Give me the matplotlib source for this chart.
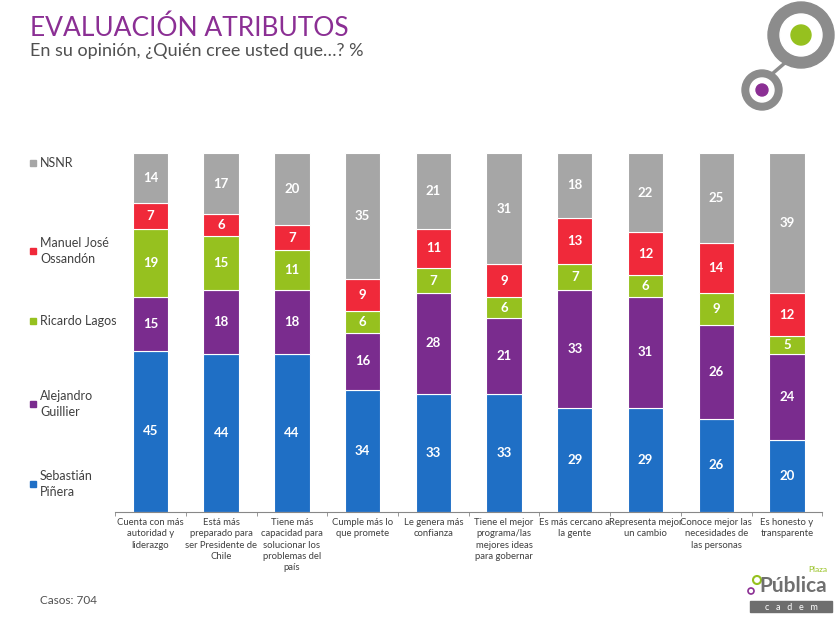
import matplotlib.pyplot as plt
from matplotlib.patches import Circle, Rectangle
import numpy as np

plt.rcParams['font.family'] = ['Lato', 'DejaVu Sans']

categories = [
    "Cuenta con más\nautoridad y\nliderazgo",
    "Está más\npreparado para\nser Presidente de\nChile",
    "Tiene más\ncapacidad para\nsolucionar los\nproblemas del\npaís",
    "Cumple más lo\nque promete",
    "Le genera más\nconfianza",
    "Tiene el mejor\nprograma/las\nmejores ideas\npara gobernar",
    "Es más cercano a\nla gente",
    "Representa mejor\nun cambio",
    "Conoce mejor las\nnecesidades de\nlas personas",
    "Es honesto y\ntransparente",
]

pinera = [45, 44, 44, 34, 33, 33, 29, 29, 26, 20]
guillier = [15, 18, 18, 16, 28, 21, 33, 31, 26, 24]
lagos = [19, 15, 11, 6, 7, 6, 7, 6, 9, 5]
ossandon = [7, 6, 7, 9, 11, 9, 13, 12, 14, 12]
nsnr = [14, 17, 20, 35, 21, 31, 18, 22, 25, 39]

series = [
    ("Sebastián\nPiñera", pinera, "#1F6FC5"),
    ("Alejandro\nGuillier", guillier, "#7A2C8E"),
    ("Ricardo Lagos", lagos, "#96C11F"),
    ("Manuel José\nOssandón", ossandon, "#F0293A"),
    ("NSNR", nsnr, "#A6A6A6"),
]

fig = plt.figure(figsize=(8.4, 6.2), dpi=100)
ax = fig.add_axes([0.137, 0.174, 0.842, 0.579])

x = np.arange(len(categories))
bottom = np.zeros(len(categories))
for name, vals, color in series:
    vals = np.array(vals)
    ax.bar(x, vals, 0.5, bottom=bottom, color=color, edgecolor="white", linewidth=0.8)
    for xi, b, v in zip(x, bottom, vals):
        ax.text(xi, b + v / 2, str(v), ha="center", va="center",
                color="white", fontsize=9.5, fontweight="bold")
    bottom += vals

ax.set_xlim(-0.5, len(categories) - 0.5)
ax.set_ylim(0, 100)
ax.set_yticks([])
ax.set_xticks(x)
ax.set_xticklabels(categories, fontsize=6.8, color="#404040", linespacing=1.35)
ax.set_xticks(np.arange(-0.5, len(categories)), minor=True)
ax.tick_params(axis="x", which="major", length=0, pad=4)
ax.tick_params(axis="x", which="minor", length=3, color="#888888")
for s in ["top", "right", "left"]:
    ax.spines[s].set_visible(False)
ax.spines["bottom"].set_color("#888888")

# legend on the left side
leg_y = [163, 251, 321, 404, 484]
for (name, vals, color), yy in zip(series[::-1], leg_y):
    fy = 1 - yy / 620
    fig.patches.append(Rectangle((30 / 840, fy - 3 / 620), 6 / 840, 6 / 620,
                                 transform=fig.transFigure, color=color))
    fig.text(40 / 840, fy, name, fontsize=9, color="#404040", va="center",
             linespacing=1.4)

fig.text(30 / 840, 1 - 28 / 620, "EVALUACIÓN ATRIBUTOS", fontsize=19,
         color="#8B2F94", va="center")
fig.text(30 / 840, 1 - 51 / 620, "En su opinión, ¿Quién cree usted que…? %",
         fontsize=13, color="#505050", va="center")
fig.text(40 / 840, 1 - 600 / 620, "Casos: 704", fontsize=8.5, color="#505050",
         va="center")

# logos drawn on an overlay in pixel coordinates
ov = fig.add_axes([0, 0, 1, 1], zorder=-1)
ov.set_xlim(0, 840)
ov.set_ylim(620, 0)
ov.axis("off")
ov.plot([772, 786], [74, 62], color="#8C8C8C", lw=2.5)
ov.add_patch(Circle((801, 35), 33, color="#8C8C8C"))
ov.add_patch(Circle((801, 35), 21, color="white"))
ov.add_patch(Circle((801, 35), 10, color="#96C11F"))
ov.add_patch(Circle((762, 90), 20, color="#8C8C8C"))
ov.add_patch(Circle((762, 90), 12, color="white"))
ov.add_patch(Circle((762, 90), 6, color="#8B2F94"))

ov.add_patch(Circle((757, 580), 4, fill=False, ec="#96C11F", lw=1.5))
ov.add_patch(Circle((751, 591), 3, fill=False, ec="#8B2F94", lw=1.2))
ov.text(793, 586, "Pública", fontsize=15, color="#707070", ha="center",
        va="center", fontweight="bold")
ov.text(827, 570, "Plaza", fontsize=6, color="#96C11F", ha="right", va="center")
ov.add_patch(Rectangle((750, 601), 82, 11, color="#6E6E6E"))
ov.text(791, 607, "c   a   d   e   m", fontsize=6.5, color="white",
        ha="center", va="center")

fig.savefig("out.png", dpi=100)
